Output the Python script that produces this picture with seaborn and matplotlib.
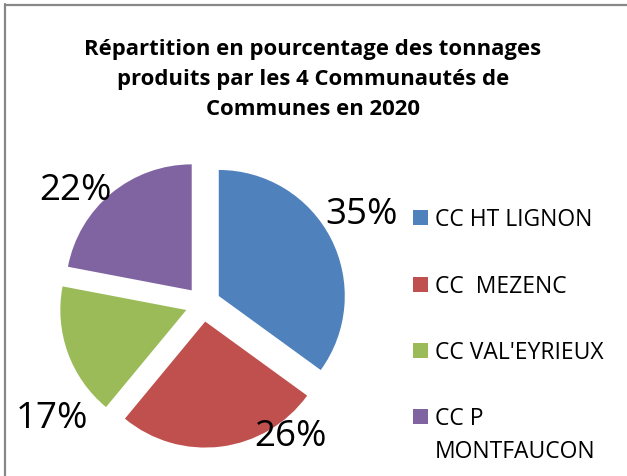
import matplotlib
matplotlib.use("Agg")
import matplotlib.pyplot as plt
import seaborn as sns
from matplotlib.patches import Rectangle
from matplotlib.lines import Line2D

categories = ["CC HT LIGNON", "CC  MEZENC", "CC VAL'EYRIEUX", "CC P\nMONTFAUCON"]
values = [35, 26, 17, 22]
colors = ["#4F81BD", "#C0504D", "#9BBB59", "#8064A2"]
title = "Répartition en pourcentage des tonnages\nproduits par les 4 Communautés de\nCommunes en 2020"

sns.set_theme(style="white")
plt.rcParams['font.family'] = ['Open Sans', 'DejaVu Sans']

W, H = 627, 477
fig = plt.figure(figsize=(W / 100, H / 100), dpi=100)
ax = fig.add_axes([0, 0, 1, 1])
ax.set_axis_off()

def Y(y):
    return H - y

pal = sns.color_palette(colors)
wedges, texts, autotexts = ax.pie(
    values, colors=pal, startangle=90, counterclock=False,
    center=(203, Y(305)), radius=126, explode=[17.7] * 4,
    autopct='%1.0f%%', wedgeprops=dict(linewidth=0),
    textprops=dict(fontsize=26.5, color='black'))
ax.set_xlim(0, W)
ax.set_ylim(0, H)
ax.set_aspect('equal')

label_pos = [(362, 224), (290, 446), (52, 428), (75, 200)]
for t, (x, y) in zip(autotexts, label_pos):
    t.set_position((x, Y(y)))
    t.set_ha('center')
    t.set_va('baseline')

ax.text(W / 2 - 0.5, Y(115), title, ha='center', va='baseline', fontsize=15.9,
        fontweight='bold', linespacing=1.55, color='black')

# legend
baselines = [226, 293, 359, 425]
line_gap = 33
for w, lab, b in zip(wedges, categories, baselines):
    ax.add_patch(Rectangle((413, Y(b)), 15, 15, facecolor=w.get_facecolor(),
                           edgecolor='none'))
    nlines = lab.count("\n")
    ax.text(435, Y(b + nlines * line_gap), lab, ha='left', va='baseline',
            fontsize=16.5, linespacing=1.52, color='black')

# chart border (left and top)
ax.add_line(Line2D([5, 5], [Y(5), 0], color='#878787', lw=1.6))
ax.add_line(Line2D([5, W], [Y(5.5), Y(5.5)], color='#878787', lw=1.6))

fig.savefig("out.png", dpi=100)
